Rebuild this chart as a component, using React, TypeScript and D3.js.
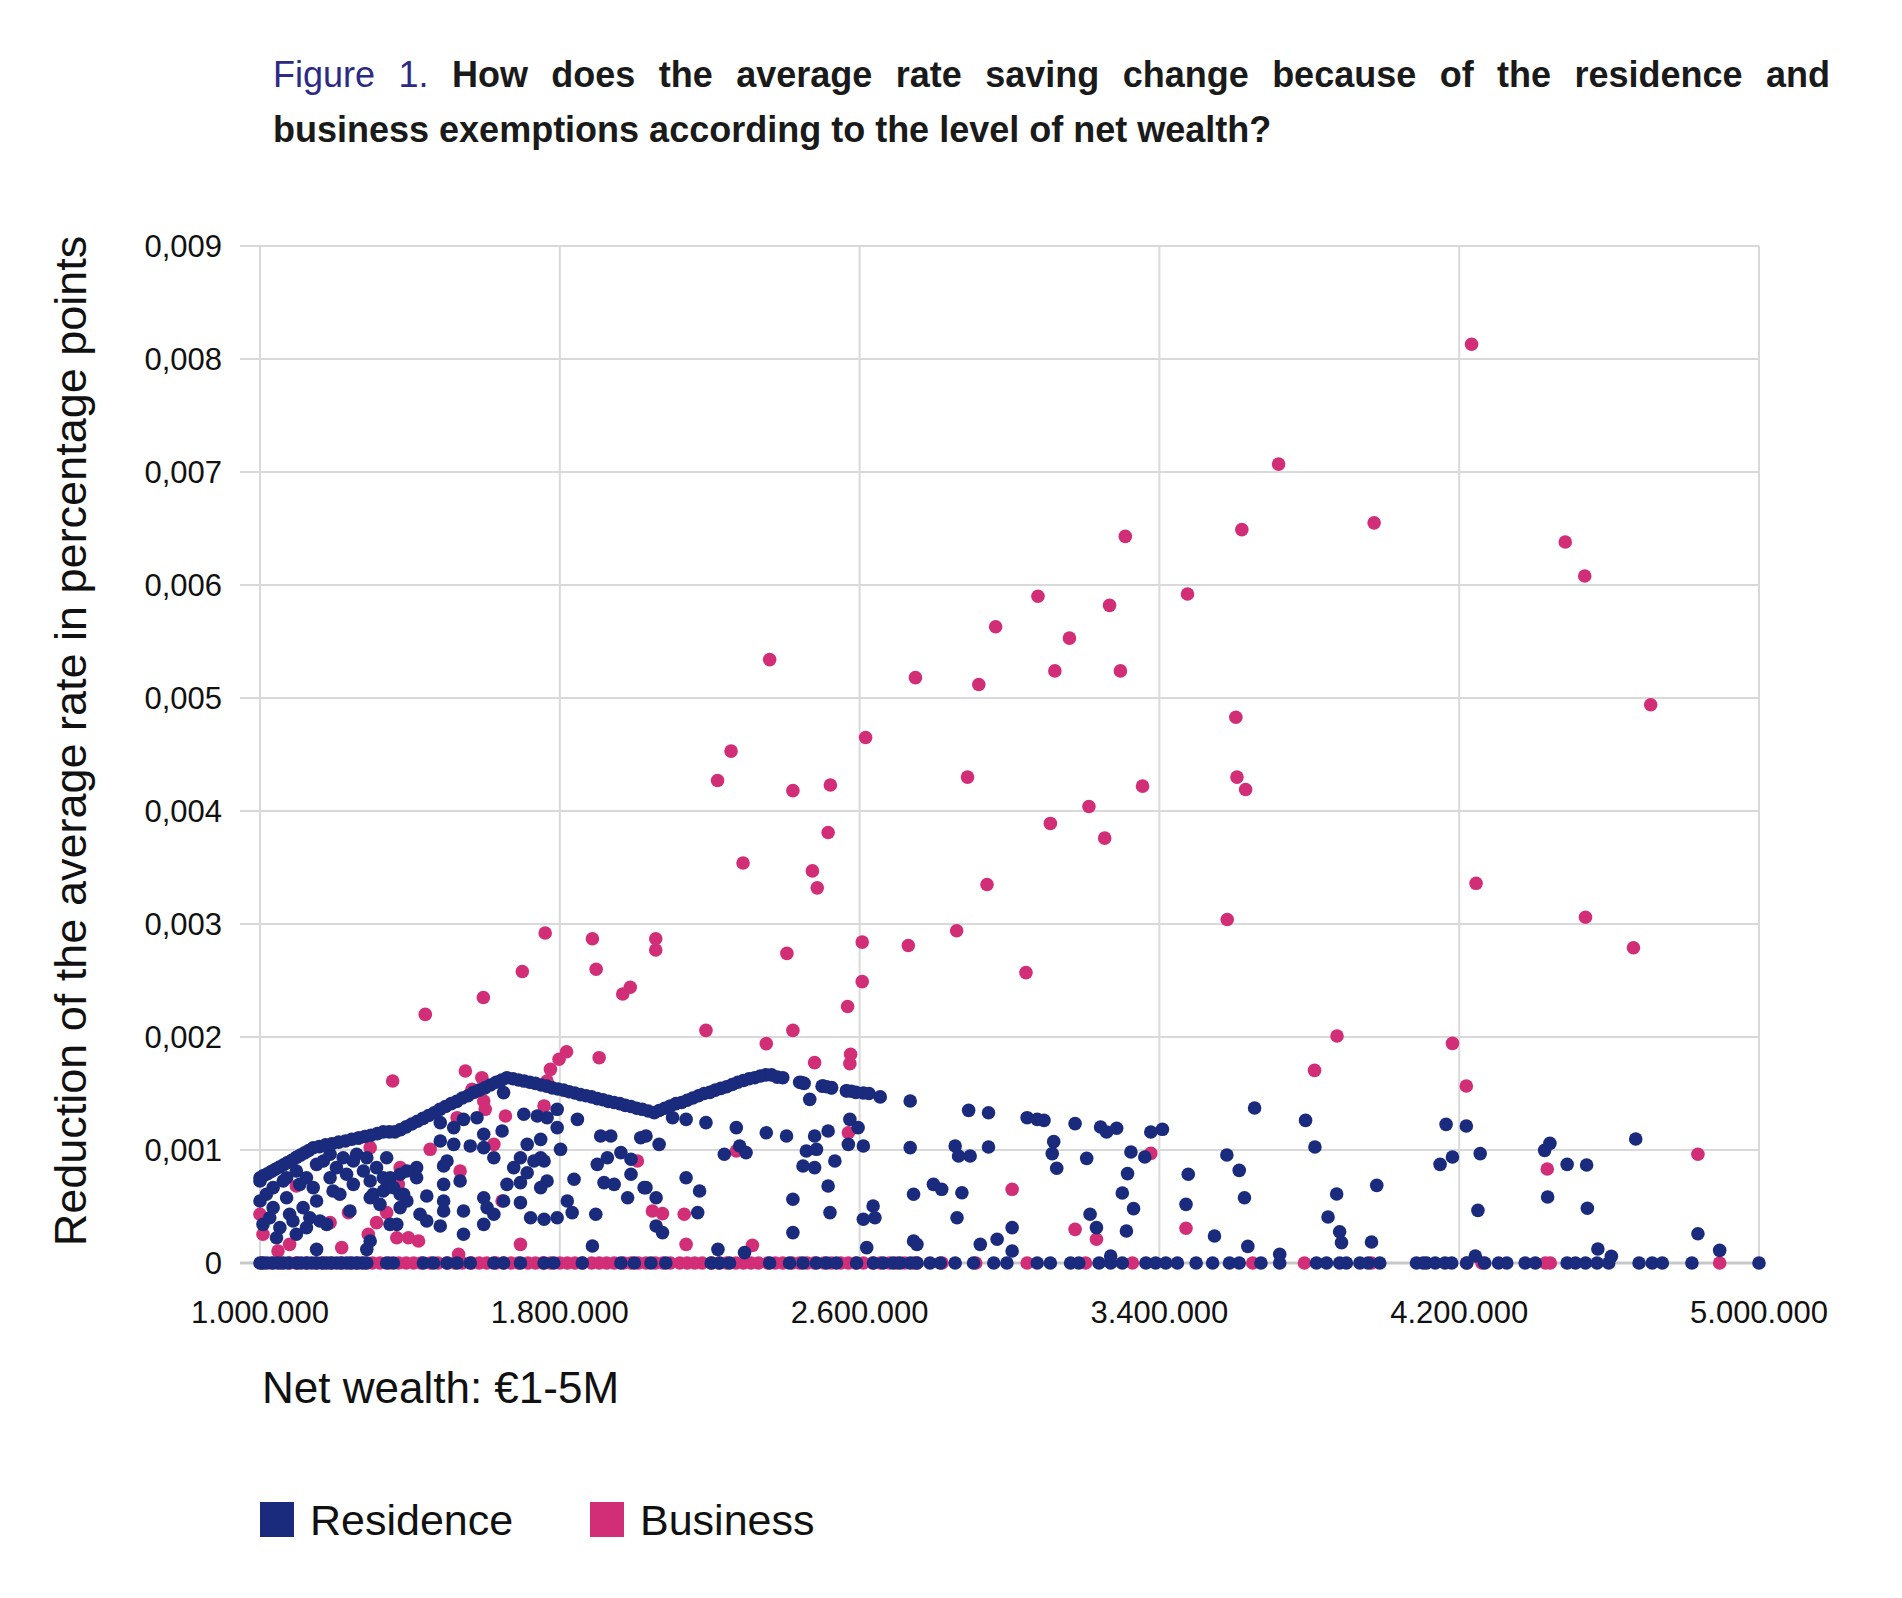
import { useEffect, useRef } from 'react';
import * as d3 from 'd3';

// net wealth in € millions, reduction in thousandths of a percentage point
const residenceRidge: [number, number][] = [
  [1.000, 0.755], [1.010, 0.775], [1.020, 0.79], [1.030, 0.81], [1.041, 0.83], [1.052, 0.85], [1.063, 0.87],
  [1.074, 0.89], [1.086, 0.91], [1.097, 0.935], [1.108, 0.955], [1.119, 0.975], [1.130, 0.995], [1.142, 1.02],
  [1.158, 1.03], [1.175, 1.045], [1.192, 1.055], [1.21, 1.07], [1.228, 1.08], [1.245, 1.095], [1.262, 1.105],
  [1.28, 1.12], [1.296, 1.13], [1.313, 1.145], [1.329, 1.16], [1.345, 1.16], [1.36, 1.16],
  [1.375, 1.18], [1.39, 1.205], [1.405, 1.23], [1.42, 1.255], [1.435, 1.28], [1.45, 1.305], [1.465, 1.33],
  [1.48, 1.36], [1.495, 1.385], [1.51, 1.41], [1.525, 1.43], [1.54, 1.46], [1.555, 1.48], [1.57, 1.51],
  [1.585, 1.53], [1.60, 1.55], [1.615, 1.575], [1.63, 1.60], [1.645, 1.62], [1.659, 1.64],
  [1.675, 1.63], [1.69, 1.62], [1.705, 1.61], [1.72, 1.60], [1.735, 1.59], [1.75, 1.575], [1.765, 1.565],
  [1.78, 1.55], [1.795, 1.54], [1.81, 1.53], [1.825, 1.515], [1.84, 1.505], [1.855, 1.49], [1.87, 1.48],
  [1.885, 1.47], [1.90, 1.455], [1.915, 1.445], [1.93, 1.43], [1.945, 1.42], [1.96, 1.41], [1.975, 1.395],
  [1.99, 1.385], [2.005, 1.37], [2.02, 1.36], [2.036, 1.345], [2.052, 1.33],
  [2.065, 1.35], [2.08, 1.37], [2.095, 1.39], [2.11, 1.41], [2.125, 1.42], [2.14, 1.44], [2.155, 1.46],
  [2.17, 1.48], [2.185, 1.50], [2.2, 1.51], [2.215, 1.53], [2.23, 1.545], [2.245, 1.56], [2.26, 1.58],
  [2.275, 1.60], [2.29, 1.615], [2.305, 1.63], [2.32, 1.64], [2.335, 1.655], [2.35, 1.665], [2.365, 1.665],
  [2.38, 1.645], [2.395, 1.64], [2.44, 1.60], [2.452, 1.59], [2.50, 1.565], [2.512, 1.56], [2.525, 1.55],
  [2.565, 1.525], [2.578, 1.52], [2.59, 1.51], [2.61, 1.505], [2.625, 1.50], [2.655, 1.47],
];

const residenceScatter: [number, number][] = [
  // 1.0 - 1.4M cluster
  [1.000, 0.726], [1.000, 0.549], [1.008, 0.342], [1.035, 0.667], [1.035, 0.490], [1.053, 0.313], [1.071, 0.755],
  [1.071, 0.578], [1.079, 0.431], [1.097, 0.814], [1.097, 0.254], [1.115, 0.490], [1.124, 0.313], [1.142, 0.667],
  [1.151, 0.873], [1.151, 0.549], [1.160, 0.372], [1.169, 0.903], [1.187, 0.755], [1.195, 0.637], [1.204, 0.844],
  [1.222, 0.932], [1.231, 0.785], [1.249, 0.903], [1.249, 0.696], [1.258, 0.962], [1.276, 0.814], [1.285, 0.932],
  [1.294, 0.726], [1.302, 0.608], [1.311, 0.844], [1.320, 0.519], [1.329, 0.755], [1.338, 0.667], [1.347, 0.755],
  [1.374, 0.608], [1.392, 0.549], [1.044, 0.224], [1.088, 0.372], [1.026, 0.401], [1.133, 0.401], [1.178, 0.342],
  [1.213, 0.608], [1.294, 0.578], [1.329, 0.637], [1.187, 0.962], [1.062, 0.726], [1.106, 0.696], [1.017, 0.608],
  [1.124, 0.755],
  // 1.4 - 2.05M
  [1.650, 1.508], [1.704, 1.316], [1.740, 1.301], [1.766, 1.286], [1.793, 1.360], [1.793, 1.198], [1.847, 1.271],
  [1.909, 1.124], [1.936, 1.124], [2.016, 1.109], [1.646, 1.168], [1.597, 1.139], [1.517, 1.198], [1.543, 1.271],
  [1.579, 1.286], [1.481, 1.242], [1.481, 1.080], [1.517, 1.050], [1.561, 1.036], [1.597, 1.021], [1.624, 0.932],
  [1.677, 0.844], [1.695, 0.932], [1.713, 1.050], [1.749, 1.094], [1.749, 0.932], [1.731, 0.903], [1.758, 0.903],
  [1.802, 1.006], [1.900, 0.873], [1.927, 0.932], [1.963, 0.977], [1.990, 0.918], [1.990, 0.785], [1.918, 0.711],
  [1.945, 0.696], [2.025, 0.667], [1.981, 0.578], [1.838, 0.741], [1.766, 0.726], [1.749, 0.667], [1.713, 0.799],
  [1.695, 0.711], [1.659, 0.696], [1.650, 0.549], [1.695, 0.534], [1.490, 0.859], [1.499, 0.903], [1.534, 0.726],
  [1.490, 0.696], [1.445, 0.593], [1.490, 0.549], [1.490, 0.460], [1.543, 0.460], [1.597, 0.578], [1.606, 0.490],
  [1.624, 0.431], [1.597, 0.342], [1.543, 0.254], [1.481, 0.328], [1.427, 0.431], [1.445, 0.372], [1.418, 0.844],
  [1.418, 0.755], [1.392, 0.814], [1.374, 0.785], [1.338, 0.932], [1.356, 0.667], [1.383, 0.608], [1.374, 0.490],
  [1.347, 0.342], [1.365, 0.342], [1.294, 0.195], [1.285, 0.121], [1.240, 0.460], [1.151, 0.121], [1.722, 0.401],
  [1.758, 0.387], [1.793, 0.401], [1.820, 0.549], [1.833, 0.446], [1.896, 0.431], [1.887, 0.150],
  // 2.0 - 3.08M
  [2.030, 1.124], [2.065, 1.050], [2.101, 1.286], [2.137, 1.271], [2.190, 1.242], [2.271, 1.198], [2.351, 1.153],
  [2.405, 1.124], [2.280, 1.035], [2.297, 0.977], [2.239, 0.962], [2.137, 0.755], [2.173, 0.637], [2.030, 0.667],
  [2.057, 0.578], [2.057, 0.328], [2.074, 0.269], [2.168, 0.446], [2.222, 0.121], [2.293, 0.092], [2.422, 0.564],
  [2.422, 0.269], [2.445, 1.596], [2.467, 1.448], [2.503, 1.566], [2.525, 1.552], [2.565, 1.522], [2.480, 1.124],
  [2.516, 1.168], [2.574, 1.271], [2.596, 1.198], [2.570, 1.050], [2.610, 1.035], [2.458, 0.991], [2.485, 1.006],
  [2.449, 0.858], [2.480, 0.844], [2.534, 0.903], [2.516, 0.681], [2.521, 0.446], [2.610, 0.387], [2.636, 0.505],
  [2.641, 0.401], [2.619, 0.136], [2.735, 1.434], [2.735, 1.021], [2.744, 0.608], [2.744, 0.195], [2.753, 0.165],
  [2.797, 0.696], [2.819, 0.652], [2.860, 0.401], [2.873, 0.622], [2.855, 1.035], [2.864, 0.947], [2.895, 0.947],
  [2.891, 1.351], [2.944, 1.330], [2.944, 1.027], [2.922, 0.165], [2.967, 0.210], [3.007, 0.313], [3.007, 0.106],
  [3.047, 1.286],
  // 3.07 - 4.1M
  [3.074, 1.271], [3.092, 1.262], [3.118, 1.074], [3.114, 0.968], [3.126, 0.838], [3.175, 1.233], [3.206, 0.926],
  [3.215, 0.431], [3.232, 0.313], [3.243, 1.204], [3.259, 1.159], [3.286, 1.192], [3.324, 0.982], [3.315, 0.791],
  [3.301, 0.620], [3.331, 0.481], [3.312, 0.283], [3.361, 0.938], [3.377, 1.159], [3.408, 1.183], [3.477, 0.785],
  [3.471, 0.519], [3.547, 0.239], [3.580, 0.956], [3.613, 0.820], [3.627, 0.578], [3.636, 0.147], [3.654, 1.372],
  [3.721, 0.077], [3.790, 1.262], [3.815, 1.027], [3.873, 0.611], [3.850, 0.407], [3.881, 0.277], [3.886, 0.180],
  [3.980, 0.687], [3.966, 0.186], [3.270, 0.062],
  // 4.1 - 5.0M
  [4.165, 1.227], [4.219, 1.212], [4.149, 0.873], [4.182, 0.938], [4.256, 0.968], [4.250, 0.466], [4.243, 0.062],
  [4.428, 0.997], [4.442, 1.059], [4.436, 0.584], [4.488, 0.873], [4.540, 0.867], [4.542, 0.484], [4.570, 0.124],
  [4.606, 0.059], [4.671, 1.097], [4.837, 0.259], [4.895, 0.112],
];

// € millions, reduction 0
const residenceZero: number[] = [
  1.000, 1.008, 1.018, 1.035, 1.048, 1.062, 1.075, 1.097, 1.11, 1.124, 1.138, 1.151, 1.165, 1.178, 1.19, 1.204,
  1.218, 1.231, 1.245, 1.258, 1.272, 1.285, 1.338, 1.356, 1.436, 1.463, 1.499, 1.526, 1.561, 1.624, 1.650, 1.695,
  1.758, 1.784, 1.860, 1.963, 1.999, 2.043, 2.083, 2.204, 2.226, 2.253, 2.360, 2.413, 2.449, 2.485, 2.512, 2.538,
  2.592, 2.637, 2.663, 2.690, 2.708, 2.735, 2.753, 2.788, 2.815, 2.855, 2.904, 2.958, 2.993, 3.074, 3.109, 3.163,
  3.185, 3.239, 3.270, 3.301, 3.364, 3.390, 3.417, 3.448, 3.498, 3.542, 3.587, 3.613, 3.671, 3.721, 3.819, 3.846,
  3.881, 3.899, 3.935, 3.957, 3.988, 4.086, 4.104, 4.113, 4.136, 4.162, 4.180, 4.220, 4.268, 4.305, 4.327, 4.376,
  4.403, 4.488, 4.510, 4.537, 4.568, 4.599, 4.680, 4.715, 4.742, 4.821, 5.000,
];

const businessScatter: [number, number][] = [
  [4.233, 8.13], [3.718, 7.07], [3.973, 6.55], [3.309, 6.43], [3.620, 6.49], [3.475, 5.92], [3.076, 5.90],
  [3.267, 5.82], [2.963, 5.63], [3.160, 5.53], [2.360, 5.34], [3.121, 5.24], [3.296, 5.24], [2.749, 5.18],
  [2.918, 5.12], [2.616, 4.65], [2.257, 4.53], [2.221, 4.27], [3.604, 4.83], [2.888, 4.30], [3.607, 4.30],
  [3.630, 4.19], [3.355, 4.22], [2.422, 4.18], [2.522, 4.23], [3.212, 4.04], [3.109, 3.89], [2.516, 3.81],
  [3.254, 3.76], [2.289, 3.54], [2.474, 3.47], [2.487, 3.32], [2.940, 3.35], [3.581, 3.04], [2.406, 2.74],
  [2.859, 2.94], [2.730, 2.81], [2.607, 2.84], [1.761, 2.92], [1.887, 2.87], [2.056, 2.87], [2.056, 2.77],
  [1.700, 2.58], [1.897, 2.60], [3.044, 2.57], [2.607, 2.49], [1.988, 2.44], [1.968, 2.38], [1.596, 2.35],
  [1.441, 2.20], [2.568, 2.27],
  [4.483, 6.38], [4.535, 6.08], [4.711, 4.94], [4.245, 3.36], [4.537, 3.06], [4.665, 2.79],
  [1.354, 1.611], [1.548, 1.699], [1.592, 1.640], [1.566, 1.537], [1.597, 1.434], [1.601, 1.360], [1.655, 1.301],
  [1.758, 1.390], [1.766, 1.611], [1.775, 1.714], [1.798, 1.803], [1.818, 1.870], [1.905, 1.817], [1.624, 1.050],
  [1.454, 1.006], [1.374, 0.844], [1.369, 0.696], [1.534, 0.814], [1.646, 0.549], [2.007, 0.903], [2.047, 0.460],
  [1.338, 0.446], [1.311, 0.357], [1.289, 0.254], [1.365, 0.224], [1.396, 0.224], [1.423, 0.195], [1.218, 0.136],
  [1.079, 0.165], [1.048, 0.106], [1.008, 0.254], [1.000, 0.431], [1.187, 0.357], [1.236, 0.446], [1.097, 0.682],
  [1.267, 1.109], [1.294, 1.021], [1.526, 1.286], [1.695, 0.165], [1.530, 0.077],
  [2.190, 2.059], [2.351, 1.941], [2.422, 2.059], [2.480, 1.773], [2.576, 1.847], [2.574, 1.764], [2.074, 0.437],
  [2.132, 0.431], [2.137, 0.165], [2.271, 0.991], [2.570, 1.153], [2.314, 0.156], [3.007, 0.652],
  [3.874, 2.009], [3.814, 1.705], [3.175, 0.298], [3.232, 0.210], [3.377, 0.970], [3.471, 0.307],
  [4.182, 1.944], [4.219, 1.566], [4.435, 0.832], [4.837, 0.962],
];

const businessZero: number[] = [
  1.005, 1.03, 1.055, 1.08, 1.10, 1.125, 1.15, 1.17, 1.19, 1.215, 1.24, 1.26, 1.28, 1.30, 1.32, 1.345, 1.37,
  1.39, 1.41, 1.43, 1.455, 1.475, 1.50, 1.52, 1.54, 1.565, 1.585, 1.605, 1.63, 1.65, 1.67, 1.69, 1.715, 1.735,
  1.755, 1.775, 1.80, 1.82, 1.84, 1.86, 1.885, 1.905, 1.925, 1.945, 1.97, 1.99, 2.01, 2.03, 2.055, 2.075, 2.095,
  2.12, 2.14, 2.16, 2.18, 2.205, 2.225, 2.245, 2.27, 2.29, 2.31, 2.33, 2.355, 2.375, 2.395, 2.42, 2.44, 2.46,
  2.48, 2.505, 2.525, 2.55, 2.57, 2.59, 2.61, 2.635, 2.655, 2.68, 2.70, 2.72, 2.745, 2.753, 2.82, 2.91, 3.047,
  3.203, 3.328, 3.649, 3.787, 3.966, 4.22, 4.261, 4.43, 4.443, 4.895,
];

const xTicks = [1000000, 1800000, 2600000, 3400000, 4200000, 5000000];
const yTicks = [0, 0.001, 0.002, 0.003, 0.004, 0.005, 0.006, 0.007, 0.008, 0.009];
const seriesNames = ['Residence', 'Business'];

const titleLead = 'Figure 1.';
const titleLine1 = 'How does the average rate saving change because of the residence and';
const titleLine2 = 'business exemptions according to the level of net wealth?';
const yTitle = 'Reduction of the average rate in percentage points';
const xTitle = 'Net wealth: €1-5M';

const NAVY = '#1a2a7c';
const PINK = '#d22e78';
const GRID = '#d9d9d9';
const FONT = '"Liberation Sans", Arial, Helvetica, sans-serif';

const App = () => {
  const ref = useRef<SVGSVGElement | null>(null);

  useEffect(() => {
    if (!ref.current) return;
    const svg = d3.select(ref.current);
    svg.selectAll('*').remove();

    const x = d3.scaleLinear().domain([1000000, 5000000]).range([260, 1759]);
    const y = d3.scaleLinear().domain([0, 0.009]).range([1263, 246]);

    const locale = d3.formatLocale({ decimal: ',', thousands: '.', grouping: [3], currency: ['€', ''] });
    const fmtX = locale.format(',.0f');
    const fmtY3 = locale.format('.3f');
    const fmtY = (v: number) => (v === 0 ? '0' : fmtY3(v));

    svg.append('rect').attr('width', 1902).attr('height', 1598).attr('fill', '#fff');

    // title
    const t1 = svg.append('text')
      .attr('x', 273).attr('y', 87)
      .style('font-family', FONT).style('font-size', '36px');
    t1.append('tspan').attr('fill', '#2d2a86').text(titleLead + ' ');
    t1.append('tspan').attr('fill', '#1a1a1a').style('font-weight', 'bold').text(titleLine1);
    const natural = (t1.node() as SVGTextElement).getComputedTextLength();
    const spaces = (titleLead + ' ' + titleLine1).split(' ').length - 1;
    t1.attr('word-spacing', (1830 - 273 - natural) / spaces);

    svg.append('text')
      .attr('x', 273).attr('y', 142)
      .attr('fill', '#1a1a1a')
      .style('font-family', FONT).style('font-size', '36px').style('font-weight', 'bold')
      .text(titleLine2);

    // grid
    const g = svg.append('g');
    g.selectAll('line.h')
      .data(yTicks)
      .join('line')
      .attr('x1', x(1000000) - 20).attr('x2', x(5000000))
      .attr('y1', d => y(d)).attr('y2', d => y(d))
      .attr('stroke', d => (d === 0 ? '#c8c8c8' : GRID))
      .attr('stroke-width', d => (d === 0 ? 3 : 2));
    g.selectAll('line.v')
      .data(xTicks)
      .join('line')
      .attr('x1', d => x(d)).attr('x2', d => x(d))
      .attr('y1', y(0)).attr('y2', y(0.009))
      .attr('stroke', GRID)
      .attr('stroke-width', 2);

    // tick labels
    svg.append('g').selectAll('text')
      .data(yTicks)
      .join('text')
      .attr('x', 222).attr('y', d => y(d))
      .attr('dy', '0.35em')
      .attr('text-anchor', 'end')
      .attr('fill', '#111')
      .style('font-family', FONT).style('font-size', '31px')
      .text(d => fmtY(d));

    svg.append('g').selectAll('text')
      .data(xTicks)
      .join('text')
      .attr('x', d => x(d)).attr('y', 1323)
      .attr('text-anchor', 'middle')
      .attr('fill', '#111')
      .style('font-family', FONT).style('font-size', '31px')
      .text(d => fmtX(d));

    // axis titles
    svg.append('text')
      .attr('transform', 'translate(86, 741) rotate(-90)')
      .attr('text-anchor', 'middle')
      .attr('fill', '#111')
      .style('font-family', FONT).style('font-size', '45px')
      .text(yTitle);

    svg.append('text')
      .attr('x', 262).attr('y', 1403)
      .attr('fill', '#111')
      .style('font-family', FONT).style('font-size', '44px')
      .text(xTitle);

    // points: business underneath, residence on top
    const r = 6.8;
    const pts = svg.append('g');
    pts.selectAll('circle.bz')
      .data(businessZero)
      .join('circle')
      .attr('cx', d => x(d * 1e6)).attr('cy', y(0)).attr('r', r).attr('fill', PINK);
    pts.selectAll('circle.bs')
      .data(businessScatter)
      .join('circle')
      .attr('cx', d => x(d[0] * 1e6)).attr('cy', d => y(d[1] / 1000)).attr('r', r).attr('fill', PINK);

    const resPts = pts.append('g');
    resPts.selectAll('circle')
      .data([
        ...residenceZero.map(v => [v, 0] as [number, number]),
        ...residenceScatter,
        ...residenceRidge,
      ])
      .join('circle')
      .attr('cx', d => x(d[0] * 1e6)).attr('cy', d => y(d[1] / 1000)).attr('r', r).attr('fill', NAVY);

    // legend
    const legend = svg.append('g').attr('transform', 'translate(260, 1502)');
    const items = legend.selectAll('g')
      .data(seriesNames)
      .join('g')
      .attr('transform', (_d, i) => `translate(${i * 330}, 0)`);
    items.append('rect')
      .attr('width', 34).attr('height', 35)
      .attr('fill', (_d, i) => (i === 0 ? NAVY : PINK));
    items.append('text')
      .attr('x', 50).attr('y', 33)
      .attr('fill', '#111')
      .style('font-family', FONT).style('font-size', '43px')
      .text(d => d);
  }, []);

  return (
    <svg
      ref={ref}
      width={1902}
      height={1598}
      style={{ position: 'absolute', left: 0, top: 0 }}
    />
  );
};

export default App;
